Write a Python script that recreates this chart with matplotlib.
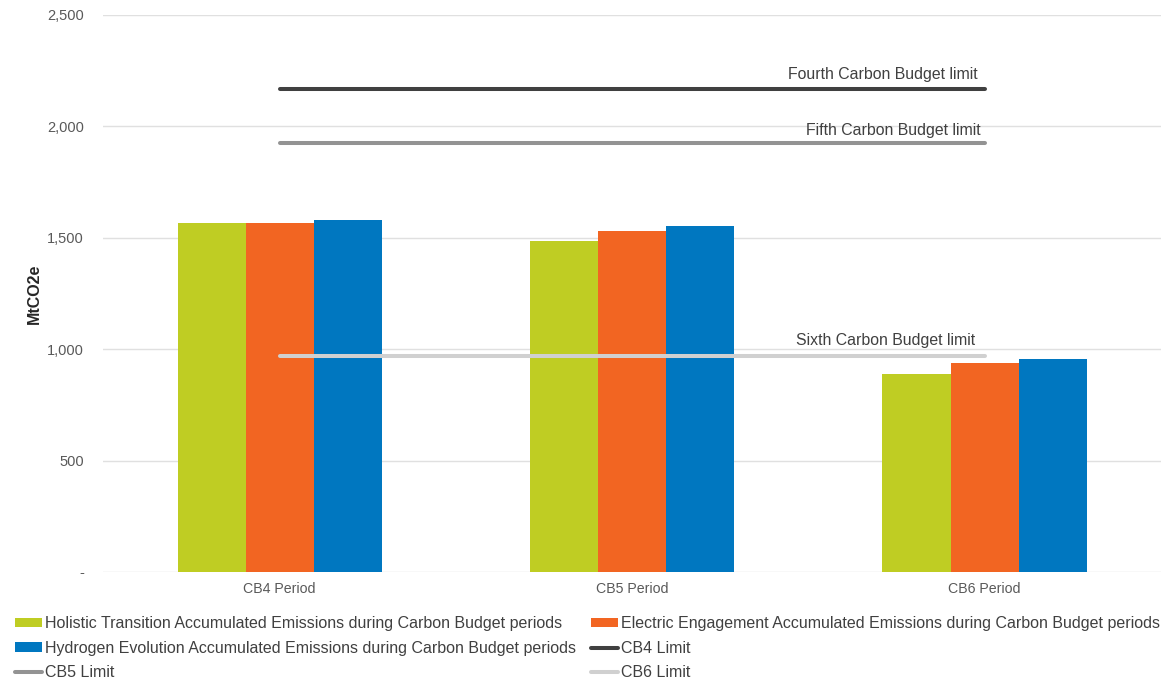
import numpy as np
import matplotlib.pyplot as plt
from matplotlib.ticker import FuncFormatter

plt.rcParams['font.family'] = ['Liberation Sans', 'DejaVu Sans']

# data
periods = ["CB4 Period", "CB5 Period", "CB6 Period"]
holistic = [1564, 1486, 887]
electric = [1566, 1529, 936]
hydrogen = [1580, 1553, 958]
cb4_limit = [2166, 2166, 2166]
cb5_limit = [1924, 1924, 1924]
cb6_limit = [969, 969, 969]

series_names = [
    "Holistic Transition Accumulated Emissions during Carbon Budget periods",
    "Electric Engagement Accumulated Emissions during Carbon Budget periods",
    "Hydrogen Evolution Accumulated Emissions during Carbon Budget periods",
]
limit_names = ["CB4 Limit", "CB5 Limit", "CB6 Limit"]
limit_labels = ["Fourth Carbon Budget limit", "Fifth Carbon Budget limit",
                "Sixth Carbon Budget limit"]

bar_colors = ["#BFCD23", "#F26522", "#0077C0"]
line_colors = ["#404040", "#939393", "#D0D0D0"]

fig = plt.figure(figsize=(11.76, 6.79), dpi=100)
ax = fig.add_axes([0.088, 0.1576, 0.899, 0.8204])

x = np.arange(len(periods))
w = 0.193
bars = []
for i, (vals, col, name) in enumerate(zip([holistic, electric, hydrogen], bar_colors, series_names)):
    b = ax.bar(x + (i - 1) * w, vals, w, color=col, label=name, zorder=2)
    bars.append(b)

lines = []
offsets = [(-5, 11), (-3, 9), (-7, 11)]
for vals, col, name, lab, off in zip([cb4_limit, cb5_limit, cb6_limit], line_colors,
                                     limit_names, limit_labels, offsets):
    ln, = ax.plot(x, vals, color=col, lw=2.9, solid_capstyle='round', label=name, zorder=3)
    lines.append(ln)
    ax.annotate(lab, xy=(x[-1], vals[-1]), xytext=off, textcoords='offset points',
                ha='right', va='center', fontsize=11.4, color='#404040')

ax.set_xlim(-0.5, 2.5)
ax.set_ylim(0, 2500)
ax.set_yticks(np.arange(0, 2501, 500))
ax.yaxis.set_major_formatter(FuncFormatter(lambda v, p: "-" if v == 0 else f"{int(v):,}"))
ax.set_xticks(x)
ax.set_xticklabels(periods)
ax.tick_params(axis='both', length=0, labelsize=10.5, labelcolor='#595959')
ax.tick_params(axis='x', labelsize=10.2, pad=7)
ax.tick_params(axis='y', pad=14)
ax.grid(axis='y', color='#E0E0E0', lw=1, zorder=0)
for s in ax.spines.values():
    s.set_visible(False)
ax.set_ylabel("MtCO2e", fontsize=11.5, fontweight='bold', color='#262626', labelpad=4)

handles = [bars[0], bars[2], lines[1], bars[1], lines[0], lines[2]]
fig.legend(handles=handles, labels=[h.get_label() for h in handles], ncol=2,
           loc='upper left', bbox_to_anchor=(0.0035, 0.109), frameon=False,
           fontsize=11.5, labelcolor='#404040', handlelength=1.7, handleheight=0.55,
           handletextpad=0.15, columnspacing=0.95, labelspacing=0.6, borderpad=0.2)

fig.savefig("out.png", dpi=100)
